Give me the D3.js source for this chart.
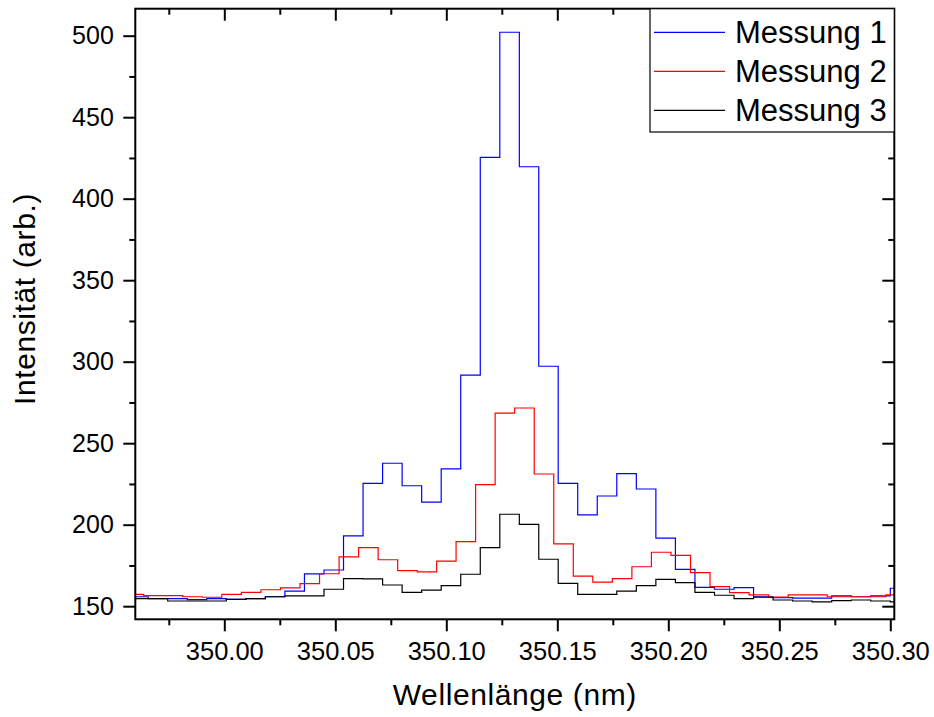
<!DOCTYPE html>
<html>
<head>
<meta charset="utf-8">
<script src="https://cdnjs.cloudflare.com/ajax/libs/d3/7.8.5/d3.min.js"></script>
<style>
  body { margin: 0; background: #fff; }
  text { font-family: "Liberation Sans", Arial, sans-serif; fill: #000; }
</style>
</head>
<body>
<div id="chart"></div>
<script>

// Wavelength of each bin (nm), Messung 1 and 3 share one grid
var wlA = [349.9526, 349.9614, 349.9701, 349.9789, 349.9877, 349.9965, 350.0053, 350.0141,
           350.0229, 350.0317, 350.0405, 350.0493, 350.0581, 350.0669, 350.0757, 350.0845,
           350.0933, 350.1021, 350.1109, 350.1197, 350.1285, 350.1373, 350.1460, 350.1548,
           350.1636, 350.1724, 350.1812, 350.1900, 350.1988, 350.2076, 350.2164, 350.2252,
           350.2340, 350.2428, 350.2516, 350.2604, 350.2692, 350.2780, 350.2868, 350.2956,
           350.3044];

// Messung 2 is slightly shifted
var wlB = [349.9505, 349.9593, 349.9681, 349.9769, 349.9857, 349.9945, 350.0033, 350.0121,
           350.0209, 350.0297, 350.0385, 350.0473, 350.0561, 350.0649, 350.0737, 350.0825,
           350.0913, 350.1000, 350.1088, 350.1176, 350.1264, 350.1352, 350.1440, 350.1528,
           350.1616, 350.1704, 350.1792, 350.1880, 350.1968, 350.2056, 350.2144, 350.2232,
           350.2320, 350.2408, 350.2496, 350.2584, 350.2672, 350.2760, 350.2848, 350.2936,
           350.3024];

var messung1 = [155.8, 155.8, 154.6, 154.6, 154.0, 154.6, 154.2, 154.6, 155.8, 159.3,
                169.8, 172.2, 193.1, 225.4, 237.7, 223.9, 213.9, 234.2, 291.8, 425.4,
                502.1, 419.6, 297.2, 225.4, 206.0, 217.6, 231.3, 221.9, 191.7, 172.6,
                161.6, 160.4, 161.4, 155.8, 155.2, 155.0, 155.0, 156.3, 155.8, 156.3,
                161.0];

var messung2 = [157.3, 157.3, 156.5, 156.5, 155.8, 155.5, 157.3, 158.5, 160.1, 161.2,
                163.8, 169.9, 180.2, 185.9, 178.5, 171.8, 171.0, 177.7, 189.6, 224.6,
                268.5, 271.6, 231.1, 188.2, 168.5, 164.8, 166.9, 174.2, 183.1, 181.2,
                170.6, 162.0, 158.3, 156.9, 155.6, 156.9, 156.9, 155.8, 155.8, 155.8,
                156.9];

var messung3 = [154.6, 154.6, 154.6, 153.2, 153.2, 153.2, 154.2, 154.6, 155.8, 156.3,
                156.3, 160.4, 166.9, 166.7, 163.0, 158.5, 159.9, 162.6, 169.6, 185.9,
                206.4, 200.2, 178.8, 164.0, 157.3, 157.3, 159.3, 162.6, 166.5, 164.4,
                158.5, 156.7, 154.6, 155.5, 153.8, 153.2, 152.6, 153.4, 153.8, 153.2,
                152.6];

var seriesNames = ["Messung 1", "Messung 2", "Messung 3"];
var seriesColors = ["#0000ff", "#ff0000", "#000000"];

// Axis ticks
var xTicks = [350.00, 350.05, 350.10, 350.15, 350.20, 350.25, 350.30];
var xMinor = [349.975, 350.025, 350.075, 350.125, 350.175, 350.225, 350.275];
var yTicks = [150, 200, 250, 300, 350, 400, 450, 500];
var yMinor = [175, 225, 275, 325, 375, 425, 475];

// Set width and height
var width = 934,
    height = 717;
var plot = {left: 135.3, right: 894.3, top: 8.7, bottom: 619.3};

var x = d3.scaleLinear()
          .domain([349.95991, 350.30180])
          .range([plot.left, plot.right]);

var y = d3.scaleLinear()
          .domain([141.96, 516.56])
          .range([plot.bottom, plot.top]);

var svg = d3.select("#chart")
            .append("svg")
              .attr("width", width)
              .attr("height", height);

svg.append("clipPath")
    .attr("id", "clip")
  .append("rect")
    .attr("x", plot.left)
    .attr("y", plot.top)
    .attr("width", plot.right - plot.left)
    .attr("height", plot.bottom - plot.top);

// Put the series together for drawing
var series = [
  {name: seriesNames[0], color: seriesColors[0], wl: wlA, values: messung1},
  {name: seriesNames[1], color: seriesColors[1], wl: wlB, values: messung2},
  {name: seriesNames[2], color: seriesColors[2], wl: wlA, values: messung3}
];

var line = d3.line()
             .x(function(d) { return x(d[0]); })
             .y(function(d) { return y(d[1]); })
             .curve(d3.curveStep);

svg.append("g")
    .attr("clip-path", "url(#clip)")
  .selectAll("path")
  .data(series)
  .enter()
  .append("path")
    .attr("d", function(s) { return line(d3.zip(s.wl, s.values)); })
    .attr("fill", "none")
    .attr("stroke", function(s) { return s.color; })
    .attr("stroke-width", 1.2);

// Axes: major and minor ticks on every side
function styleAxis(g) {
  g.select(".domain").remove();
  g.selectAll(".tick line").attr("stroke", "#000").attr("stroke-width", 2);
}

svg.append("g")
    .attr("transform", "translate(0," + plot.bottom + ")")
    .call(d3.axisBottom(x).tickValues(xTicks).tickSize(12).tickPadding(10.5)
            .tickFormat(d3.format(".2f")))
    .call(styleAxis)
    .selectAll("text")
      .style("font-size", "25.5px");

svg.append("g")
    .attr("transform", "translate(0," + plot.bottom + ")")
    .call(d3.axisBottom(x).tickValues(xMinor).tickSize(6).tickFormat(""))
    .call(styleAxis);

svg.append("g")
    .attr("transform", "translate(0," + plot.top + ")")
    .call(d3.axisTop(x).tickValues(xTicks).tickSize(-12).tickFormat(""))
    .call(styleAxis);

svg.append("g")
    .attr("transform", "translate(0," + plot.top + ")")
    .call(d3.axisTop(x).tickValues(xMinor).tickSize(-6).tickFormat(""))
    .call(styleAxis);

svg.append("g")
    .attr("transform", "translate(" + plot.left + ",0)")
    .call(d3.axisLeft(y).tickValues(yTicks).tickSize(12).tickPadding(9.5))
    .call(styleAxis)
    .selectAll("text")
      .style("font-size", "25px");

svg.append("g")
    .attr("transform", "translate(" + plot.left + ",0)")
    .call(d3.axisLeft(y).tickValues(yMinor).tickSize(6).tickFormat(""))
    .call(styleAxis);

svg.append("g")
    .attr("transform", "translate(" + plot.right + ",0)")
    .call(d3.axisRight(y).tickValues(yTicks).tickSize(-12).tickFormat(""))
    .call(styleAxis);

svg.append("g")
    .attr("transform", "translate(" + plot.right + ",0)")
    .call(d3.axisRight(y).tickValues(yMinor).tickSize(-6).tickFormat(""))
    .call(styleAxis);

// Frame
svg.append("rect")
    .attr("x", plot.left)
    .attr("y", plot.top)
    .attr("width", plot.right - plot.left)
    .attr("height", plot.bottom - plot.top)
    .attr("fill", "none")
    .attr("stroke", "#000")
    .attr("stroke-width", 2);

// Axis titles
svg.append("text")
    .attr("x", (plot.left + plot.right) / 2)
    .attr("y", 705)
    .attr("text-anchor", "middle")
    .style("font-size", "30px")
    .style("letter-spacing", "0.6px")
    .text("Wellenlänge (nm)");

svg.append("text")
    .attr("transform", "translate(35,299) rotate(-90)")
    .attr("text-anchor", "middle")
    .style("font-size", "30px")
    .style("letter-spacing", "0.6px")
    .text("Intensität (arb.)");

// Legend
var legend = svg.append("g");

legend.append("rect")
    .attr("x", 650)
    .attr("y", plot.top)
    .attr("width", plot.right - 650)
    .attr("height", 132 - plot.top)
    .attr("fill", "#fff")
    .attr("stroke", "#000")
    .attr("stroke-width", 1.2);

var item = legend.selectAll(".item")
                 .data(series)
                 .enter()
                 .append("g")
                   .attr("class", "item")
                   .attr("transform", function(d, i) { return "translate(0," + (32.3 + i * 39) + ")"; });

item.append("line")
    .attr("x1", 654)
    .attr("x2", 725)
    .attr("stroke", function(d) { return d.color; })
    .attr("stroke-width", 1.2);

item.append("text")
    .attr("x", 735)
    .attr("y", 11)
    .style("font-size", "31px")
    .text(function(d) { return d.name; });

</script>
</body>
</html>
